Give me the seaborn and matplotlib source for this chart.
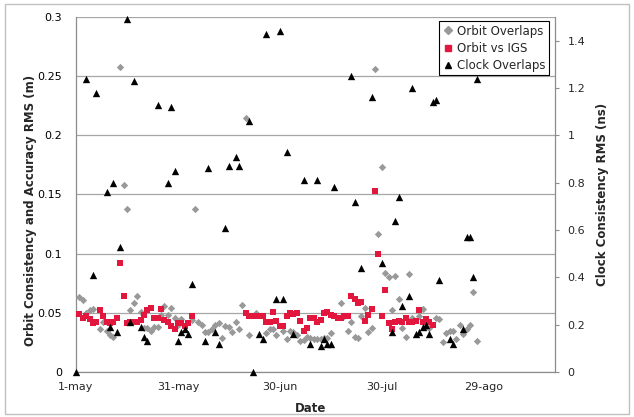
import numpy as np
import pandas as pd
import matplotlib
matplotlib.use('Agg')
import matplotlib.pyplot as plt
import matplotlib.dates as mdates
from matplotlib.ticker import FuncFormatter, MultipleLocator
from matplotlib.lines import Line2D
from matplotlib.patches import Rectangle
import seaborn as sns

# days counted from 1-may
start = pd.Timestamp('2008-05-01')

overlap_days = [1, 2, 3, 4, 5, 7, 8, 9, 10, 11, 13, 14, 15, 16, 17, 18, 19, 20, 21, 22,
                23, 24, 25, 26, 27, 28, 29, 30, 31, 34, 35, 36, 37, 38, 39, 40, 41, 42, 43, 44,
                45, 46, 47, 48, 49, 50, 51, 53, 56, 57, 58, 59, 61, 62, 63, 64, 65, 66, 67, 68,
                69, 70, 71, 72, 73, 74, 75, 78, 79, 80, 81, 82, 83, 84, 85, 86, 87, 88, 89, 90,
                91, 92, 93, 94, 95, 96, 97, 98, 99, 101, 102, 103, 104, 106, 107, 108, 109, 110, 111, 112,
                113, 114, 115, 116, 117, 118]
overlap_rms = [0.063, 0.061, 0.050, 0.052, 0.053, 0.036, 0.042, 0.035, 0.031, 0.030, 0.258, 0.158, 0.138, 0.052, 0.058, 0.064, 0.051, 0.037, 0.037, 0.035,
               0.038, 0.038, 0.048, 0.056, 0.048, 0.054, 0.046, 0.040, 0.045, 0.044, 0.138, 0.042, 0.040, 0.034, 0.034, 0.036, 0.040, 0.041, 0.029, 0.039,
               0.038, 0.034, 0.042, 0.036, 0.057, 0.215, 0.031, 0.050, 0.033, 0.036, 0.036, 0.031, 0.035, 0.028, 0.035, 0.034, 0.031, 0.026, 0.027, 0.030,
               0.029, 0.028, 0.028, 0.028, 0.029, 0.029, 0.033, 0.058, 0.047, 0.035, 0.042, 0.030, 0.029, 0.047, 0.054, 0.034, 0.037, 0.256, 0.117, 0.173,
               0.084, 0.080, 0.052, 0.081, 0.062, 0.037, 0.030, 0.083, 0.046, 0.047, 0.053, 0.038, 0.037, 0.046, 0.045, 0.025, 0.033, 0.035, 0.035, 0.028,
               0.040, 0.032, 0.036, 0.040, 0.068, 0.026]

igs_days = [1, 2, 3, 4, 5, 6, 7, 8, 9, 10, 11, 12, 13, 14, 15, 16, 17, 18, 19, 20,
            21, 22, 23, 24, 25, 26, 27, 28, 29, 30, 31, 32, 33, 34, 50, 51, 52, 53, 54, 55,
            56, 57, 58, 59, 60, 61, 62, 63, 64, 65, 66, 67, 68, 69, 70, 71, 72, 73, 74, 75,
            76, 77, 78, 79, 80, 81, 82, 83, 84, 85, 86, 87, 88, 89, 90, 91, 92, 93, 94, 95,
            96, 97, 98, 99, 100, 101, 102, 103, 104, 105]
igs_rms = [0.049, 0.046, 0.047, 0.045, 0.041, 0.042, 0.052, 0.047, 0.042, 0.041, 0.042, 0.046, 0.092, 0.064, 0.041, 0.042, 0.042, 0.042, 0.044, 0.048,
           0.052, 0.054, 0.046, 0.046, 0.053, 0.044, 0.042, 0.039, 0.036, 0.041, 0.041, 0.039, 0.041, 0.047, 0.050, 0.047, 0.047, 0.047, 0.047, 0.047,
           0.042, 0.042, 0.051, 0.043, 0.039, 0.039, 0.047, 0.050, 0.049, 0.050, 0.043, 0.035, 0.037, 0.046, 0.046, 0.042, 0.044, 0.050, 0.051, 0.048,
           0.047, 0.046, 0.046, 0.047, 0.047, 0.064, 0.062, 0.058, 0.059, 0.043, 0.048, 0.053, 0.153, 0.100, 0.047, 0.069, 0.041, 0.036, 0.042, 0.043,
           0.042, 0.046, 0.042, 0.042, 0.043, 0.052, 0.042, 0.045, 0.042, 0.040]

clock_days = [0, 3, 5, 6, 9, 10, 11, 12, 13, 15, 16, 17, 19, 20, 21, 24, 27, 28, 29, 30,
              31, 32, 33, 34, 38, 39, 41, 42, 44, 45, 47, 48, 51, 52, 54, 55, 56, 59, 60, 61,
              62, 64, 67, 69, 71, 72, 73, 74, 75, 76, 81, 82, 84, 87, 90, 93, 94, 95, 96, 98,
              99, 100, 101, 102, 103, 104, 105, 106, 107, 110, 111, 114, 115, 116, 117, 118]
clock_rms = [0.0, 1.24, 0.41, 1.18, 0.76, 0.19, 0.80, 0.17, 0.53, 1.49, 0.21, 1.23, 0.19, 0.15, 0.13, 1.13, 0.80, 1.12, 0.85, 0.13,
             0.17, 0.18, 0.16, 0.37, 0.13, 0.86, 0.17, 0.12, 0.61, 0.87, 0.91, 0.87, 1.06, 0.0, 0.16, 0.14, 1.43, 0.31, 1.44, 0.31,
             0.93, 0.16, 0.81, 0.12, 0.81, 0.11, 0.14, 0.12, 0.12, 0.78, 1.25, 0.72, 0.44, 1.16, 0.46, 0.17, 0.64, 0.74, 0.28, 0.32,
             1.20, 0.16, 0.17, 0.19, 0.20, 0.16, 1.14, 1.15, 0.39, 0.14, 0.12, 0.18, 0.57, 0.57, 0.40, 1.24]

tick_days = [0, 30, 60, 90, 120]
month_es = {5: 'may', 6: 'jun', 7: 'jul', 8: 'ago', 9: 'sep'}

grey = '#999999'
red = '#e3173e'
axis_grey = '#8c8c8c'


def to_df(days, vals):
    return pd.DataFrame({'date': start + pd.to_timedelta(days, unit='D'), 'rms': vals})


sns.set_style('white')
plt.rcParams['font.family'] = ['DejaVu Sans']
plt.rcParams['font.size'] = 8

fig = plt.figure(figsize=(6.34, 4.17), dpi=100)
ax = fig.add_axes([76 / 634, 45 / 417, (555 - 76) / 634, (372 - 17) / 417])
ax2 = ax.twinx()

sns.scatterplot(data=to_df(overlap_days, overlap_rms), x='date', y='rms', ax=ax,
                marker='D', s=14, color=grey, linewidth=0, legend=False, zorder=3)
sns.scatterplot(data=to_df(igs_days, igs_rms), x='date', y='rms', ax=ax,
                marker='s', s=13, color=red, linewidth=0, legend=False, zorder=4)
sns.scatterplot(data=to_df(clock_days, clock_rms), x='date', y='rms', ax=ax2,
                marker='^', s=28, color='black', linewidth=0, legend=False, zorder=5,
                clip_on=False)

ax.set_xlim(start, start + pd.Timedelta(days=141))
ax.set_xticks([start + pd.Timedelta(days=d) for d in tick_days])
ax.xaxis.set_major_formatter(FuncFormatter(
    lambda x, pos: f"{mdates.num2date(x).day}-{month_es[mdates.num2date(x).month]}"))

ax.set_ylim(0, 0.3)
ax.yaxis.set_major_locator(MultipleLocator(0.05))
ax.yaxis.set_major_formatter(FuncFormatter(lambda v, pos: f"{round(v, 3):g}"))
ax2.set_ylim(0, 1.5)
ax2.set_yticks(np.arange(0, 1.41, 0.2))
ax2.yaxis.set_major_formatter(FuncFormatter(lambda v, pos: f"{round(v, 2):g}"))

ax.yaxis.grid(True, color='#a6a6a6', linewidth=0.9)
ax.xaxis.grid(False)
ax.set_axisbelow(True)

for s in ['top', 'right']:
    ax.spines[s].set_visible(False)
for s in ['top', 'left', 'bottom']:
    ax2.spines[s].set_visible(False)
for sp in [ax.spines['left'], ax.spines['bottom'], ax2.spines['right']]:
    sp.set_color(axis_grey)
    sp.set_linewidth(0.9)

ax.tick_params(axis='y', length=0, pad=10, labelsize=8, colors='black')
ax.tick_params(axis='x', direction='in', length=3.5, width=0.8, color=axis_grey, pad=7, labelsize=8)
ax2.tick_params(axis='y', direction='out', length=3, width=0.8, color=axis_grey, pad=6, labelsize=8)

ax.set_xlabel('Date', fontweight='bold', fontsize=8.5)
ax.xaxis.set_label_coords(0.49, -0.085)
ax.set_ylabel('Orbit Consistency and Accuracy RMS (m)', fontweight='bold', fontsize=8.5)
ax.yaxis.set_label_coords(-0.082, 0.456)
ax2.set_ylabel('Clock Consistency RMS (ns)', fontweight='bold', fontsize=8.5)
ax2.yaxis.set_label_coords(1.086, 0.5)

handles = [Line2D([], [], marker='D', color=grey, linestyle='', markersize=4),
           Line2D([], [], marker='s', color=red, linestyle='', markersize=3.8),
           Line2D([], [], marker='^', color='black', linestyle='', markersize=5)]
labels = ['Orbit Overlaps', 'Orbit vs IGS', 'Clock Overlaps']
leg = ax2.legend(handles, labels, loc='upper right', bbox_to_anchor=(1 - 6 / 479, 1 - 4 / 355),
                 borderaxespad=0, fancybox=False, framealpha=1, edgecolor='black',
                 fontsize=8.5, handlelength=0.8, handletextpad=0.4, borderpad=0.3, labelspacing=0.35)
leg.get_frame().set_linewidth(0.8)
leg.set_zorder(10)

fig.patches.append(Rectangle((5 / 634, 3 / 417), 624 / 634, 410 / 417, transform=fig.transFigure,
                             fill=False, edgecolor='#c0c0c0', linewidth=1))

fig.savefig('out.png', dpi=100)
